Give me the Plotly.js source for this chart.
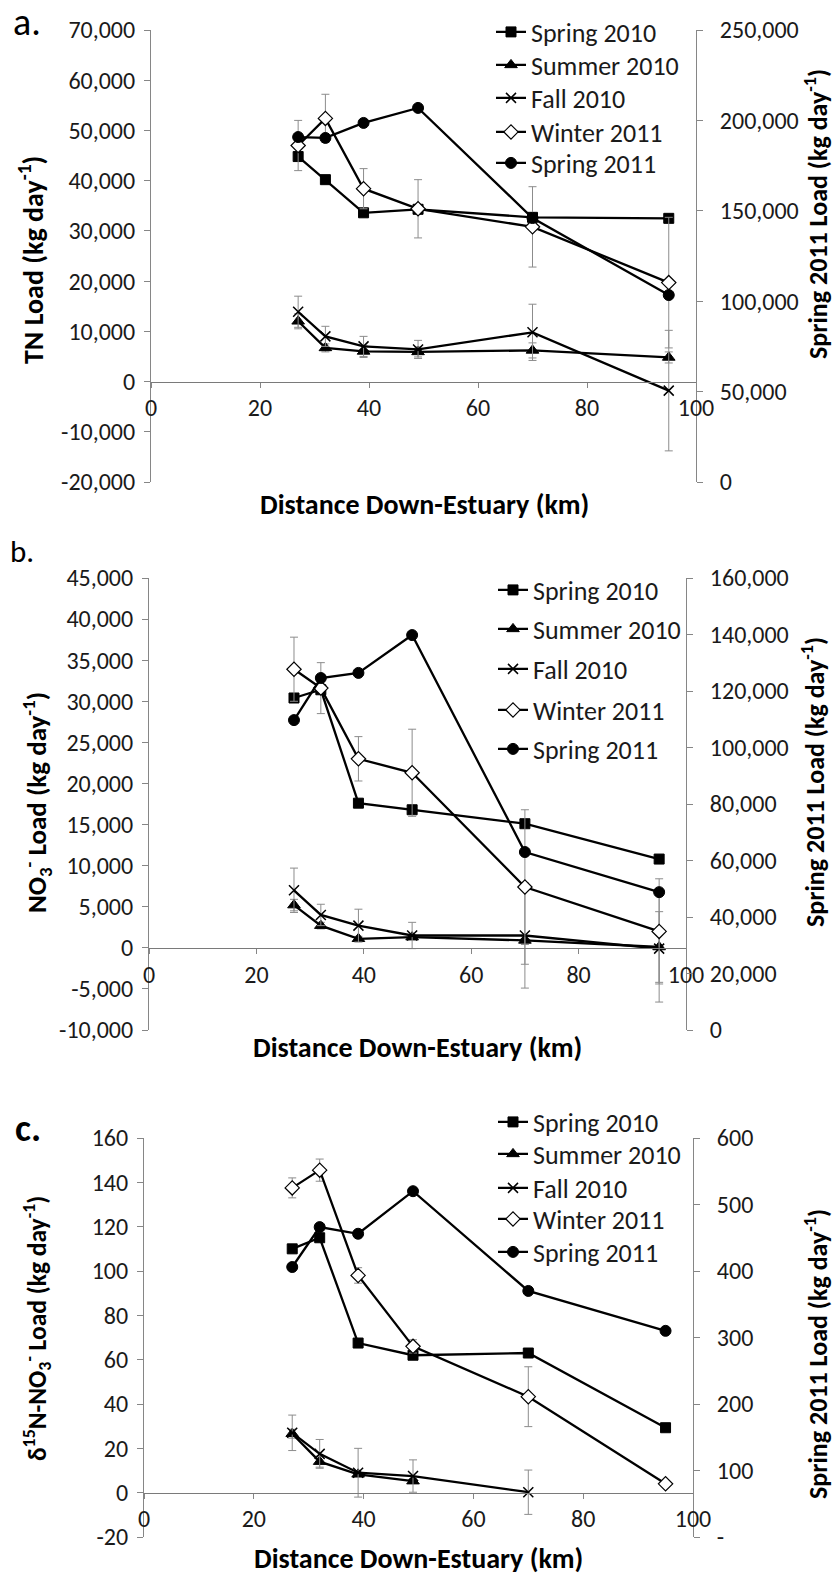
<!DOCTYPE html>
<html><head><meta charset="utf-8">
<script src="https://cdn.plot.ly/plotly-3.0.1.min.js"></script>
<style>html,body{margin:0;padding:0;background:#fff}</style>
</head><body><div id="chart" style="width:836px;height:1576px"></div>
<script>
// ---------- data ----------
const distance = [27, 32, 39, 49, 70, 95];
const seasonNames = ['Spring 2010', 'Summer 2010', 'Fall 2010', 'Winter 2011', 'Spring 2011'];
const xTicks = [0, 20, 40, 60, 80, 100];

// a. TN load (kg/day)
const tnSpring2010 = [44800, 40200, 33600, 34300, 32700, 32500];
const tnSummer2010 = [12000, 6700, 6000, 5900, 6200, 4800];
const tnFall2010   = [13900, 9000, 7000, 6400, 9800, -1800];
const tnWinter2011 = [47000, 52400, 38400, 34400, 30800, 19700];
const tnSpring2011 = [190800, 190300, 198600, 206900, 146000, 103400];
const tnSummerErr  = [1500, 800, 1200, 1000, 1500, 1100];
const tnFallErr    = [3100, 2000, 2000, 1800, 5600, 12000];
const tnWinterErr  = [5000, 4800, 4000, 5800, 8000, 13000];
const tnLeftTicks  = [-20000, -10000, 0, 10000, 20000, 30000, 40000, 50000, 60000, 70000];
const tnRightTicks = [0, 50000, 100000, 150000, 200000, 250000];

// b. NO3- load (kg/day)
const noSpring2010 = [30400, 31400, 17600, 16800, 15100, 10800];
const noSummer2010 = [5200, 2700, 1100, 1300, 900, 100];
const noFall2010   = [7000, 4000, 2700, 1500, 1500, -100];
const noWinter2011 = [33900, 31600, 23000, 21300, 7400, 2000];
const noSpring2011 = [109700, 124600, 126400, 139800, 63000, 48800];
const noSummerErr  = [700, 400, 300, 300, 500, 4300];
const noFallErr    = [2700, 1300, 2000, 1600, 6400, 6500];
const noWinterErr  = [3900, 3100, 2700, 5300, 9400, 6400];
const noLeftTicks  = [-10000, -5000, 0, 5000, 10000, 15000, 20000, 25000, 30000, 35000, 40000, 45000];
const noRightTicks = [0, 20000, 40000, 60000, 80000, 100000, 120000, 140000, 160000];

// c. d15N-NO3- load (kg/day)
const dnSpring2010 = [110, 115, 67.5, 62, 63, 29.3];
const dnSummer2010 = [26.6, 14, 8.3, 5.2, null, null];
const dnFall2010   = [27, 17.5, 9, 7.5, 0.2, null];
const dnWinter2011 = [137.5, 145.5, 98, 66, 43.3, 4];
const dnSpring2011 = [406, 466, 456, 520, 370, 310];
const dnSummerErr  = [2, 2.5, 1, 1, 0, 0];
const dnFallErr    = [8, 6.5, 11, 7.3, 10, 0];
const dnWinterErr  = [4.5, 5, 3.5, 3, 13.5, 0];
const dnLeftTicks  = [-20, 0, 20, 40, 60, 80, 100, 120, 140, 160];
const dnRightTicks = [0, 100, 200, 300, 400, 500, 600];
const dnRightLabels = ['-', '100', '200', '300', '400', '500', '600'];

// ---------- style ----------
const W = 836, H = 1576;
const fx = p => p / W;
const fy = p => 1 - p / H;
const FONT = 'Carlito, Calibri, Lato, sans-serif';
const AXC = '#868686';
const TXT = '#1a1a1a';
const fmt = v => v.toLocaleString('en-US');

const markers = [
  {symbol: 'square', size: 10, color: '#000', line: {color: '#000', width: 1}},
  {symbol: 'triangle-up', size: 11, color: '#000', line: {color: '#000', width: 1}},
  {symbol: 'x-thin', size: 10, color: '#000', line: {color: '#000', width: 1.5}},
  {symbol: 'diamond', size: 11, color: '#fff', line: {color: '#000', width: 1.2}},
  {symbol: 'circle', size: 11, color: '#000', line: {color: '#000', width: 1}}
];

function errBar(arr) {
  return {type: 'data', array: arr, visible: true, color: '#8c8c8c', thickness: 1, width: 4};
}

// one legend per entry so that each entry can sit where the reference puts it
function panelTraces(series, errs, xa, yl, yr, legIndex0) {
  return series.map((ys, i) => {
    const n = legIndex0 + i;
    const t = {
      type: 'scatter', mode: 'lines+markers', name: seasonNames[i],
      x: distance, y: ys, xaxis: xa, yaxis: i === 4 ? yr : yl,
      line: {color: '#000', width: 2.3},
      marker: markers[i], legend: n === 1 ? 'legend' : 'legend' + n,
      connectgaps: false, cliponaxis: false
    };
    if (errs[i]) t.error_y = errBar(errs[i]);
    return t;
  });
}

const traces = [].concat(
  panelTraces([tnSpring2010, tnSummer2010, tnFall2010, tnWinter2011, tnSpring2011],
              [null, tnSummerErr, tnFallErr, tnWinterErr, null], 'x', 'y', 'y2', 1),
  panelTraces([noSpring2010, noSummer2010, noFall2010, noWinter2011, noSpring2011],
              [null, noSummerErr, noFallErr, noWinterErr, null], 'x2', 'y3', 'y4', 6),
  panelTraces([dnSpring2010, dnSummer2010, dnFall2010, dnWinter2011, dnSpring2011],
              [null, dnSummerErr, dnFallErr, dnWinterErr, null], 'x3', 'y5', 'y6', 11)
);

const tickFont = {family: FONT, size: 24, color: TXT};

function xAxis(left, right, top, bottom, yRange) {
  const d0 = fy(bottom), d1 = fy(top);
  const frac = (0 - yRange[0]) / (yRange[1] - yRange[0]);
  return {
    domain: [fx(left), fx(right)], range: [0, 100], anchor: 'free',
    position: d0 + frac * (d1 - d0),
    tickvals: xTicks, ticktext: xTicks.map(String),
    showgrid: false, zeroline: false, showline: true, linecolor: '#7a7a7a', linewidth: 1,
    ticks: 'outside', ticklen: 5, tickcolor: AXC, tickfont: tickFont, automargin: false
  };
}
function yAxis(top, bottom, range, ticks, labels, xa, side, overlay) {
  const ax = {
    domain: [fy(bottom), fy(top)], range: range, anchor: xa, side: side,
    tickvals: ticks, ticktext: labels || ticks.map(fmt),
    showgrid: false, zeroline: false, showline: true, linecolor: AXC, linewidth: 1,
    ticks: 'outside', ticklen: 6, tickcolor: AXC, tickfont: tickFont, automargin: false,
    ticklabelstandoff: side === 'left' ? 4 : 12
  };
  if (overlay) ax.overlaying = overlay;
  return ax;
}

const PA = {l: 151, r: 696, t: 30, b: 482, yl: [-20000, 70000], yr: [0, 250000]};
const PB = {l: 149, r: 686, t: 578, b: 1030, yl: [-10000, 45000], yr: [0, 160000]};
const PC = {l: 144, r: 693, t: 1138, b: 1537, yl: [-20, 160], yr: [0, 600]};

function legendAt(px, py) {
  return {x: fx(px), y: fy(py), xanchor: 'left', yanchor: 'middle', bgcolor: 'rgba(0,0,0,0)',
          borderwidth: 0, font: {family: FONT, size: 26, color: TXT}, itemwidth: 30};
}
const legendRowsA = [32, 65, 98, 132, 163];
const legendRowsB = [590, 629, 669, 710, 749];
const legendRowsC = [1122, 1154, 1188, 1219, 1252];

function tf(size) { return {family: FONT, size: size, color: '#000', weight: 'bold'}; }
function ann(text, px, py, angle, font) {
  return {text: text, x: fx(px), y: fy(py), xref: 'paper', yref: 'paper', showarrow: false,
          textangle: angle, xanchor: 'center', yanchor: 'middle', font: font};
}

const layout = {
  width: W, height: H, margin: {l: 0, r: 0, t: 0, b: 0},
  paper_bgcolor: '#fff', plot_bgcolor: 'rgba(0,0,0,0)', showlegend: true,
  xaxis: xAxis(PA.l, PA.r, PA.t, PA.b, PA.yl),
  yaxis: yAxis(PA.t, PA.b, PA.yl, tnLeftTicks, null, 'x', 'left'),
  yaxis2: yAxis(PA.t, PA.b, PA.yr, tnRightTicks, null, 'x', 'right', 'y'),
  xaxis2: xAxis(PB.l, PB.r, PB.t, PB.b, PB.yl),
  yaxis3: yAxis(PB.t, PB.b, PB.yl, noLeftTicks, null, 'x2', 'left'),
  yaxis4: yAxis(PB.t, PB.b, PB.yr, noRightTicks, null, 'x2', 'right', 'y3'),
  xaxis3: xAxis(PC.l, PC.r, PC.t, PC.b, PC.yl),
  yaxis5: yAxis(PC.t, PC.b, PC.yl, dnLeftTicks, null, 'x3', 'left'),
  yaxis6: yAxis(PC.t, PC.b, PC.yr, dnRightTicks, dnRightLabels, 'x3', 'right', 'y5'),
  annotations: [
    ann('a.', 27, 22, 0, {family: FONT, size: 38, color: '#000'}),
    ann('b.', 22, 551, 0, {family: FONT, size: 31, color: '#000'}),
    ann('c.', 28, 1128, 0, {family: FONT, size: 38, color: '#000', weight: 'bold'}),
    ann('TN Load (kg day<sup>-1</sup>)', 31, 260, -90, tf(28)),
    ann('Spring 2011 Load (kg day<sup>-1</sup>)', 816, 214, -90, tf(26)),
    ann('Distance Down-Estuary (km)', 424, 505, 0, tf(28)),
    ann('NO<sub>3</sub><sup>-</sup> Load (kg day<sup>-1</sup>)', 37, 803, -90, tf(27)),
    ann('Spring 2011 Load (kg day<sup>-1</sup>)', 813, 782, -90, tf(26)),
    ann('Distance Down-Estuary (km)', 417, 1047, 0, tf(28)),
    ann('δ<sup>15</sup>N-NO<sub>3</sub><sup>-</sup> Load (kg day<sup>-1</sup>)', 37, 1329, -90, tf(25.5)),
    ann('Spring 2011 Load (kg day<sup>-1</sup>)', 816, 1354, -90, tf(26)),
    ann('Distance Down-Estuary (km)', 418, 1558, 0, tf(28))
  ]
};
legendRowsA.forEach((py, i) => { layout[i === 0 ? 'legend' : 'legend' + (i + 1)] = legendAt(491, py); });
legendRowsB.forEach((py, i) => { layout['legend' + (i + 6)] = legendAt(493, py); });
legendRowsC.forEach((py, i) => { layout['legend' + (i + 11)] = legendAt(493, py); });

Plotly.newPlot('chart', traces, layout, {displayModeBar: false, staticPlot: true});
</script></body></html>
